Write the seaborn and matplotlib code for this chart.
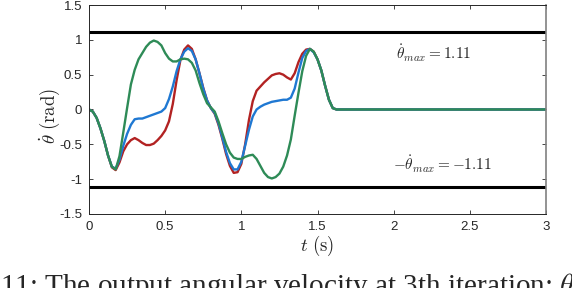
import numpy as np
import pandas as pd
import matplotlib
matplotlib.use("Agg")
import matplotlib.pyplot as plt
import seaborn as sns

# time grid (0.025 s steps up to 1.65 s, then flat)
t = [round(0.025 * i, 3) for i in range(67)] + [3.0]

green = [0, -0.03, -0.12, -0.27, -0.45, -0.66, -0.82, -0.86, -0.67, -0.33,
         0.02, 0.36, 0.57, 0.72, 0.81, 0.90, 0.96, 0.99, 0.97, 0.92,
         0.81, 0.73, 0.69, 0.69, 0.72, 0.73, 0.72, 0.67, 0.56, 0.38,
         0.22, 0.09, 0.03, -0.03, -0.17, -0.34, -0.50, -0.62, -0.69, -0.71,
         -0.71, -0.68, -0.66, -0.65, -0.71, -0.81, -0.91, -0.97, -0.99, -0.97,
         -0.92, -0.82, -0.66, -0.43, -0.09, 0.24, 0.55, 0.77, 0.87, 0.83,
         0.72, 0.56, 0.34, 0.14, 0.02, 0.0, 0.0, 0.0]

blue = [0, -0.03, -0.12, -0.27, -0.45, -0.66, -0.82, -0.85, -0.72, -0.52,
        -0.35, -0.22, -0.14, -0.13, -0.13, -0.11, -0.09, -0.07, -0.05, -0.03,
        0.02, 0.15, 0.33, 0.55, 0.72, 0.83, 0.88, 0.84, 0.72, 0.52,
        0.30, 0.13, 0.02, -0.05, -0.20, -0.40, -0.61, -0.77, -0.86, -0.86,
        -0.75, -0.52, -0.29, -0.10, 0.0, 0.04, 0.07, 0.09, 0.11, 0.12,
        0.13, 0.14, 0.14, 0.17, 0.30, 0.53, 0.74, 0.84, 0.87, 0.82,
        0.72, 0.56, 0.34, 0.14, 0.02, 0.0, 0.0, 0.0]

red = [0, -0.03, -0.12, -0.27, -0.45, -0.66, -0.83, -0.87, -0.76, -0.60,
       -0.50, -0.44, -0.41, -0.44, -0.48, -0.51, -0.51, -0.49, -0.44, -0.38,
       -0.30, -0.17, 0.08, 0.42, 0.71, 0.86, 0.92, 0.87, 0.72, 0.52,
       0.31, 0.13, 0.02, -0.06, -0.22, -0.42, -0.64, -0.81, -0.91, -0.90,
       -0.78, -0.50, -0.15, 0.12, 0.27, 0.33, 0.39, 0.44, 0.49, 0.51,
       0.52, 0.50, 0.46, 0.43, 0.52, 0.68, 0.80, 0.86, 0.87, 0.83,
       0.72, 0.56, 0.34, 0.14, 0.02, 0.0, 0.0, 0.0]

theta_max = 1.11
yticks = [-1.5, -1, -0.5, 0, 0.5, 1, 1.5]
ytick_labels = ["-1.5", "-1", "-0.5", "0", "0.5", "1", "1.5"]
xticks = [0, 0.5, 1, 1.5, 2, 2.5, 3]
xtick_labels = ["0", "0.5", "1", "1.5", "2", "2.5", "3"]

df = pd.DataFrame({
    "t": t * 3,
    "v": red + blue + green,
    "series": ["red"] * len(t) + ["blue"] * len(t) + ["green"] * len(t),
})

sns.set_style("ticks")
plt.rcParams["font.family"] = ["Liberation Sans", "DejaVu Sans"]
plt.rcParams["mathtext.fontset"] = "cm"
plt.rcParams["axes.unicode_minus"] = False

fig = plt.figure(figsize=(5.72, 2.88), dpi=100)
ax = fig.add_axes([0.1556, 0.257, 0.799, 0.7256])

sns.lineplot(data=df, x="t", y="v", hue="series", sort=False,
             palette={"red": "#b22222", "blue": "#1f78d2", "green": "#2e8b57"},
             linewidth=1.7, legend=False, ax=ax)

ax.axhline(theta_max, color="black", linewidth=2.2)
ax.axhline(-theta_max, color="black", linewidth=2.2)

ax.text(2.26, 0.81, r"$\dot{\theta}_{max} = 1.11$", ha="center", va="center", fontsize=11)
ax.text(2.32, -0.79, r"$-\dot{\theta}_{max} = -1.11$", ha="center", va="center", fontsize=11)

ax.set_xlim(0, 3)
ax.set_ylim(-1.5, 1.5)
ax.set_xticks(xticks)
ax.set_xticklabels(xtick_labels)
ax.set_yticks(yticks)
ax.set_yticklabels(ytick_labels)
ax.tick_params(direction="in", top=True, right=True, length=3, width=0.6,
               labelsize=9.5, colors="#262626", pad=5)
for side in ["left", "bottom", "top"]:
    ax.spines[side].set_color("#262626")
    ax.spines[side].set_linewidth(0.7)
ax.spines["right"].set_color("#808080")
ax.spines["right"].set_linewidth(1.2)

ax.set_xlabel(r"$t\ (\mathrm{s})$", fontsize=13.5, labelpad=1)
ax.set_ylabel(r"$\dot{\theta}\ (\mathrm{rad})$", fontsize=13.5)
ax.yaxis.set_label_coords(-0.058, 0.47)

# figure caption that is cut off at the bottom edge in the reference
fig.text(0.0, -0.02, r"11: The output angular velocity at 3th iteration; $\theta$",
         family=["Liberation Serif", "DejaVu Serif"], fontsize=21, va="baseline")

fig.savefig("out.png", dpi=100)
